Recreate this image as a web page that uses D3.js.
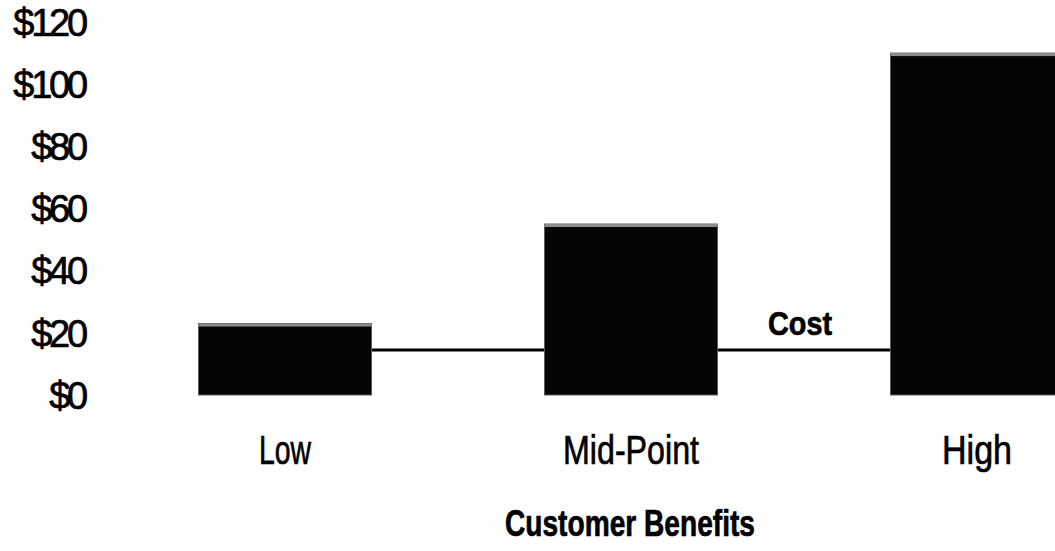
<!DOCTYPE html>
<html>
<head>
<meta charset="utf-8">
<title>Customer Benefits</title>
<script src="https://cdn.jsdelivr.net/npm/d3@7/dist/d3.min.js"></script>
<style>
  body { margin: 0; background: #fff; }
  text { font-family: "Liberation Sans", Arial, sans-serif; fill: #000; stroke: #000; stroke-width: 0.7px; }
</style>
</head>
<body>
<script>
// chart data
var categories = ['Low', 'Mid-Point', 'High'];
var benefits = [23, 55, 110];
var cost = [14.5, 14.5, 14.5];
var yTicks = [0, 20, 40, 60, 80, 100, 120];

var width = 1055, height = 551;

var svg = d3.select('body').append('svg')
  .attr('width', width)
  .attr('height', height);

var x = d3.scaleBand()
  .domain(categories)
  .range([112, 1150])
  .paddingInner(0.5)
  .paddingOuter(0.25);

var y = d3.scaleLinear()
  .domain([0, 120])
  .range([395, 22]);

// y axis labels only, the scan has no axis line
var yAxis = svg.append('g')
  .attr('transform', 'translate(85,0)')
  .call(d3.axisLeft(y).tickValues(yTicks).tickSize(0).tickPadding(0)
    .tickFormat(function(d) { return '$' + d; }));
yAxis.select('.domain').remove();
yAxis.selectAll('text')
  .style('font-size', '38px')
  .style('letter-spacing', '-3.2px')
  .attr('fill', '#000')
  .attr('dy', '0.35em');

// cost line, drawn first so the bars hide it
var line = d3.line()
  .x(function(d, i) { return x(categories[i]) + x.bandwidth() / 2; })
  .y(function(d) { return y(d); });

svg.append('path')
  .datum(cost)
  .attr('d', line)
  .attr('fill', 'none')
  .attr('stroke', '#000')
  .attr('stroke-width', 3);

var bars = svg.append('g').selectAll('g')
  .data(benefits)
  .enter().append('g');

bars.append('rect')
  .attr('x', function(d, i) { return x(categories[i]); })
  .attr('y', function(d) { return y(d); })
  .attr('width', x.bandwidth())
  .attr('height', function(d) { return y(0) - y(d); })
  .attr('fill', '#050505')
  .attr('stroke', '#5a5a5a')
  .attr('stroke-width', 1);

// lighter top edge as in the scan
bars.append('rect')
  .attr('x', function(d, i) { return x(categories[i]); })
  .attr('y', function(d) { return y(d); })
  .attr('width', x.bandwidth())
  .attr('height', 3)
  .attr('fill', '#8c8c8c');

// category labels
var labelW = { 'Low': 52, 'Mid-Point': 136, 'High': 70 };
var xAxis = svg.append('g')
  .attr('transform', 'translate(0,464)')
  .call(d3.axisBottom(x).tickSize(0).tickPadding(0));
xAxis.select('.domain').remove();
xAxis.selectAll('text')
  .attr('dy', 0)
  .attr('fill', '#000')
  .attr('textLength', function(d) { return labelW[d]; })
  .attr('lengthAdjust', 'spacingAndGlyphs')
  .style('font-size', '40px');

svg.append('text')
  .attr('x', 800)
  .attr('y', 335)
  .attr('text-anchor', 'middle')
  .attr('textLength', 64)
  .attr('lengthAdjust', 'spacingAndGlyphs')
  .style('font-size', '34px')
  .style('font-weight', 'bold')
  .text('Cost');

svg.append('text')
  .attr('x', 630)
  .attr('y', 536)
  .attr('text-anchor', 'middle')
  .attr('textLength', 250)
  .attr('lengthAdjust', 'spacingAndGlyphs')
  .style('font-size', '37px')
  .style('font-weight', 'bold')
  .text('Customer Benefits');
</script>
</body>
</html>
